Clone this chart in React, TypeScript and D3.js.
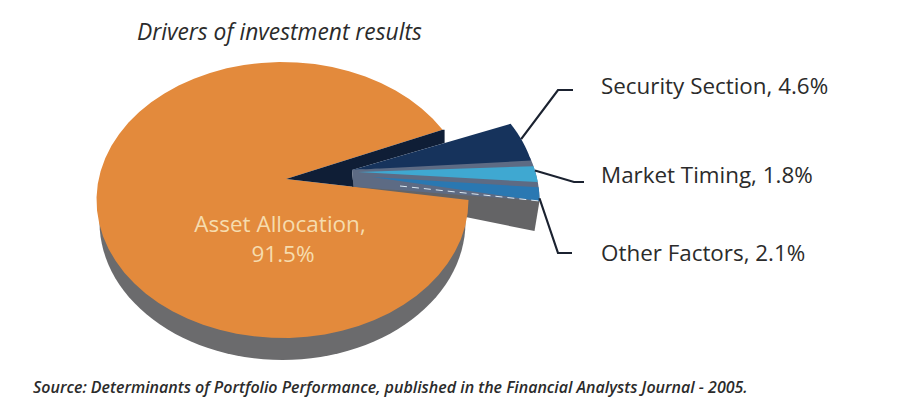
import React from "react";
import * as d3 from "d3";

const categories = ["Asset Allocation", "Security Section", "Market Timing", "Other Factors"];
const shares = [91.5, 4.6, 1.8, 2.1];
const title = "Drivers of investment results";
const source = "Source: Determinants of Portfolio Performance, published in the Financial Analysts Journal - 2005.";

type P = [number, number];
const W = 912, H = 414;
const FONT = "'Open Sans', sans-serif";
const rim = { cx: 282.5, cy: 200, rx: 186, ry: 138 };
const hub: P = [286, 179];
const navyHub: P = [352, 170];
const lowerHub: P = [352, 180];
const navyShift: P = [68, -6];
const lowerShift: P = [71, 1];

const arcs = d3.pie<number>().sort(null).startAngle(Math.PI / 2).endAngle(Math.PI * 2.5)(shares);
const [main, security, market, other] = arcs;

const at = (a: number, shift: P = [0, 0], dy = 0, shrink = 0): P => [
  rim.cx + shift[0] + (rim.rx - shrink) * Math.sin(a),
  rim.cy + shift[1] + dy + rim.ry * -Math.cos(a),
];
const sweep = (a0: number, a1: number, shift: P = [0, 0], dy = 0, shrink = 0): P[] =>
  d3.range(0, 61).map((i) => at(a0 + ((a1 - a0) * i) / 60, shift, dy, shrink));
const path = (pts: P[]) => d3.line()(pts)! + "Z";
const mix = (a: P, b: P, t: number): P => [a[0] + (b[0] - a[0]) * t, a[1] + (b[1] - a[1]) * t];

const side = path(sweep(Math.PI / 2, Math.PI * 1.5, [0, 0], 22, 3));
const orange = path([hub, ...sweep(main.startAngle, main.endAngle)]);
const gapEnd = at(main.endAngle);
const gapStart = at(main.startAngle);
const navyRimStart = at(security.startAngle, navyShift);
const notch = mix(navyHub, navyRimStart, (gapEnd[0] + 2 - navyHub[0]) / (navyRimStart[0] - navyHub[0]));
const floor = path([hub, gapEnd, [gapEnd[0] + 2, gapEnd[1]], notch, navyHub, mix(hub, gapStart, 0.37)]);
const navy = path([navyHub, ...sweep(security.startAngle, security.endAngle, navyShift)]);
const band = path([navyHub, ...sweep(security.endAngle - 0.08, other.endAngle, lowerShift), mix(hub, gapStart, 0.37)]);
const mt = market.endAngle - market.startAngle;
const ot = other.endAngle - other.startAngle;
const lightBlue = path([[358, 172], ...sweep(market.startAngle - 0.01, market.startAngle + mt * 0.95, lowerShift)]);
const blue = path([[372, 177], ...sweep(other.startAngle + ot * 0.25, other.endAngle, lowerShift)]);
const wallTop = at(other.endAngle, lowerShift);
const wall = path([lowerHub, wallTop, [wallTop[0] - 5, wallTop[1] + 30], [lowerHub[0], lowerHub[1] + 14]]);

const lineGen = d3.line();
const leaders: { from: P; elbow: P; end: P }[] = [
  { from: at((security.startAngle + security.endAngle) / 2 - 0.02, navyShift), elbow: [558, 90], end: [573, 90] },
  { from: at(market.startAngle + mt * 0.2, lowerShift), elbow: [574, 182], end: [584, 182] },
  { from: at(other.endAngle - 0.02, lowerShift), elbow: [558, 253], end: [572, 253] },
];
const labelPos: P[] = [[601, 94], [601, 183], [601, 261]];

export default function App() {
  return (
    <svg width={W} height={H} viewBox={`0 0 ${W} ${H}`} style={{ position: "absolute", left: 0, top: 0, background: "#fff" }}>
      <text x={137} y={40} fontFamily={FONT} fontStyle="italic" fontSize={22.8} fontWeight={500} fill="#2b2b2b">{title}</text>
      <path d={side} fill="#6b6b6d" />
      <path d={wall} fill="#646466" />
      <path d={orange} fill="#e38a3c" />
      <path d={floor} fill="#0f1e36" />
      <path d={band} fill="#5d6b84" />
      <path d={lightBlue} fill="#3fa8d1" />
      <path d={blue} fill="#2a78b2" />
      <line x1={400} y1={186} x2={wallTop[0]} y2={wallTop[1]} stroke="#dbe8f2" strokeWidth={1} strokeDasharray="7 5" />
      <path d={navy} fill="#16335c" />
      {leaders.map((l, i) => (
        <path key={i} d={lineGen([l.from, l.elbow, l.end])!} fill="none" stroke="#1b2230" strokeWidth={2.2} />
      ))}
      <g fontFamily={FONT} fontSize={22.5} fill="#f6dcae" textAnchor="middle">
        <text x={280} y={232}>{categories[0]},</text>
        <text x={283} y={262}>{shares[0].toFixed(1)}%</text>
      </g>
      <g fontFamily={FONT} fontSize={22.4} fill="#2b2b2b">
        {categories.slice(1).map((c, i) => (
          <text key={c} x={labelPos[i][0]} y={labelPos[i][1]}>{`${c}, ${shares[i + 1].toFixed(1)}%`}</text>
        ))}
      </g>
      <text x={33} y={393} fontFamily={FONT} fontStyle="italic" fontWeight={600} fontSize={16} fill="#2b2b2b">{source}</text>
    </svg>
  );
}
